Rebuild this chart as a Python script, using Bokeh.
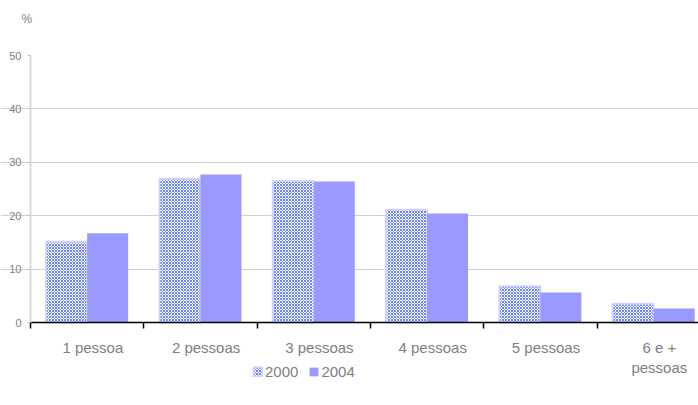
from bokeh.plotting import figure
from bokeh.models import Range1d, FixedTicker, Legend, LegendItem, Label, ColumnDataSource
from bokeh.embed import file_html
from bokeh.resources import INLINE

categories = ["1 pessoa", "2 pessoas", "3 pessoas", "4 pessoas", "5 pessoas", "6 e +\npessoas"]
values_2000 = [15.1, 26.9, 26.5, 21.1, 6.8, 3.5]
values_2004 = [16.7, 27.7, 26.4, 20.4, 5.6, 2.6]
y_ticks = [0, 10, 20, 30, 40, 50]
series_names = ["2000", "2004"]
unit_label = "%"

idx = list(range(len(categories)))
centers = [i + 0.5 for i in idx]
label_ticks = [i + 0.55 for i in idx]
boundaries = [i for i in range(len(categories) + 1)]

src = ColumnDataSource(dict(
    x2000=[c - 0.181 for c in centers],
    x2004=[c + 0.181 for c in centers],
    v2000=values_2000,
    v2004=values_2004,
))

FONT = "Liberation Sans"
GRAY = "#808080"

W, H = 698, 405
TOP, LEFT, ZERO_Y = 55, 30, 322
PX_PER_UNIT = (ZERO_Y - TOP) / 50.0
CAT_PX = 113.3
y_start = -(H - ZERO_Y) / PX_PER_UNIT
y_end = 50 + TOP / PX_PER_UNIT
x_start = -LEFT / CAT_PX
x_end = (W - LEFT) / CAT_PX

p = figure(width=W, height=H, output_backend="svg", toolbar_location=None,
           x_range=Range1d(x_start, x_end), y_range=Range1d(y_start, y_end),
           min_border=0)
p.outline_line_color = None
p.background_fill_color = "white"
p.border_fill_color = "white"

r2000 = p.vbar(x="x2000", top="v2000", bottom=0, width=0.362, source=src,
               fill_color="white", hatch_pattern="diagonal_cross", hatch_color="#6a85ff",
               hatch_scale=3, hatch_weight=1, line_color="#d2d2ff", line_width=2)
r2004 = p.vbar(x="x2004", top="v2004", bottom=0, width=0.362, source=src,
               fill_color="#9999ff", line_color=None)

# grids
p.xgrid.visible = False
p.ygrid.ticker = FixedTicker(ticks=y_ticks[1:-1])
p.ygrid.grid_line_color = "#d0d0d0"
p.ygrid.grid_line_width = 1
p.ygrid.bounds = (0, x_end)

# y axis at x = 0
ya = p.yaxis[0]
ya.fixed_location = 0
ya.ticker = FixedTicker(ticks=y_ticks)
ya.bounds = (0, 50)
ya.axis_line_color = "#d9d9d9"
ya.axis_line_width = 2
ya.major_tick_line_color = "#bfbfbf"
ya.major_tick_out = 3
ya.major_tick_in = 0
ya.minor_tick_line_color = None
ya.major_label_text_font = FONT
ya.major_label_text_font_size = "11px"
ya.major_label_text_color = GRAY
ya.major_label_standoff = 6

# x axis at y = 0
xa = p.xaxis[0]
xa.fixed_location = 0
xa.ticker = FixedTicker(ticks=label_ticks, minor_ticks=boundaries)
xa.bounds = (0, x_end)
xa.major_label_overrides = {t: c for t, c in zip(label_ticks, categories)}
xa.axis_line_color = "black"
xa.axis_line_width = 1.5
xa.major_tick_line_color = None
xa.major_tick_out = 0
xa.major_tick_in = 0
xa.minor_tick_line_color = "black"
xa.minor_tick_line_width = 1.5
xa.minor_tick_out = 6
xa.minor_tick_in = 0
xa.major_label_text_font = FONT
xa.major_label_text_font_size = "15px"
xa.major_label_text_color = GRAY
xa.major_label_standoff = 10

# "%" unit label above the y axis
p.add_layout(Label(x=-9 / CAT_PX, y=50 + (TOP - 18) / PX_PER_UNIT, text=unit_label,
                   text_align="left", text_baseline="middle", text_font=FONT,
                   text_font_size="12px", text_color=GRAY))

legend = Legend(items=[LegendItem(label=series_names[0], renderers=[r2000]),
                       LegendItem(label=series_names[1], renderers=[r2004])],
                location=(252, 25), orientation="horizontal",
                glyph_width=11, glyph_height=11, label_standoff=2, spacing=10,
                padding=0, margin=0, border_line_color=None, background_fill_alpha=0,
                label_text_font=FONT, label_text_font_size="15px", label_text_color=GRAY,
                label_height=15)
p.add_layout(legend, "center")

open("out.html", "w").write(file_html(p, INLINE))
